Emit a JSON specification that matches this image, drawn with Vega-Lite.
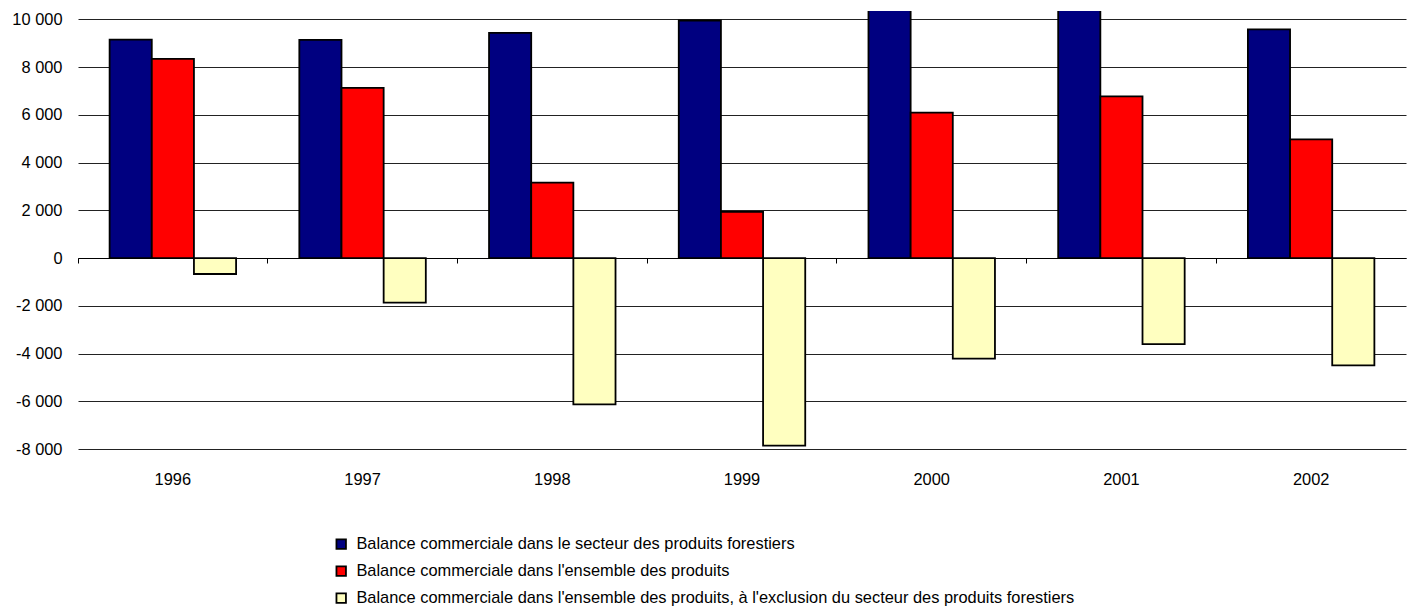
{
  "$schema": "https://vega.github.io/schema/vega-lite/v6.json",
  "width": 1328,
  "height": 438,
  "autosize": "none",
  "padding": {"left": 78, "top": 11, "right": 4, "bottom": 159},
  "background": "white",
  "config": {
    "view": {"stroke": null},
    "font": "Liberation Sans",
    "axis": {"labelFont": "Liberation Sans", "labelFontSize": 16.4, "labelColor": "#000"}
  },
  "data": {
    "values": [
      {"year": "1996", "series": "Balance commerciale dans le secteur des produits forestiers", "value": 9150},
      {"year": "1996", "series": "Balance commerciale dans l'ensemble des produits", "value": 8340},
      {"year": "1996", "series": "Balance commerciale dans l'ensemble des produits, à l'exclusion du secteur des produits forestiers", "value": -670},
      {"year": "1997", "series": "Balance commerciale dans le secteur des produits forestiers", "value": 9140},
      {"year": "1997", "series": "Balance commerciale dans l'ensemble des produits", "value": 7130},
      {"year": "1997", "series": "Balance commerciale dans l'ensemble des produits, à l'exclusion du secteur des produits forestiers", "value": -1870},
      {"year": "1998", "series": "Balance commerciale dans le secteur des produits forestiers", "value": 9430},
      {"year": "1998", "series": "Balance commerciale dans l'ensemble des produits", "value": 3160},
      {"year": "1998", "series": "Balance commerciale dans l'ensemble des produits, à l'exclusion du secteur des produits forestiers", "value": -6130},
      {"year": "1999", "series": "Balance commerciale dans le secteur des produits forestiers", "value": 9950},
      {"year": "1999", "series": "Balance commerciale dans l'ensemble des produits", "value": 1935},
      {"year": "1999", "series": "Balance commerciale dans l'ensemble des produits, à l'exclusion du secteur des produits forestiers", "value": -7860},
      {"year": "2000", "series": "Balance commerciale dans le secteur des produits forestiers", "value": 10500},
      {"year": "2000", "series": "Balance commerciale dans l'ensemble des produits", "value": 6090},
      {"year": "2000", "series": "Balance commerciale dans l'ensemble des produits, à l'exclusion du secteur des produits forestiers", "value": -4210},
      {"year": "2001", "series": "Balance commerciale dans le secteur des produits forestiers", "value": 10600},
      {"year": "2001", "series": "Balance commerciale dans l'ensemble des produits", "value": 6770},
      {"year": "2001", "series": "Balance commerciale dans l'ensemble des produits, à l'exclusion du secteur des produits forestiers", "value": -3610},
      {"year": "2002", "series": "Balance commerciale dans le secteur des produits forestiers", "value": 9580},
      {"year": "2002", "series": "Balance commerciale dans l'ensemble des produits", "value": 4970},
      {"year": "2002", "series": "Balance commerciale dans l'ensemble des produits, à l'exclusion du secteur des produits forestiers", "value": -4500}
    ]
  },
  "resolve": {"axis": {"x": "independent"}},
  "layer": [
    {
      "mark": {"type": "bar", "stroke": "#000", "strokeWidth": 1.8, "clip": true},
      "encoding": {
        "x": {
          "field": "year", "type": "nominal",
          "scale": {"paddingInner": 0, "paddingOuter": 0},
          "axis": {"orient": "bottom", "title": null, "domain": false, "ticks": false, "tickSize": 0, "labelAngle": 0, "labelPadding": 22, "grid": false}
        },
        "xOffset": {
          "field": "series", "type": "nominal",
          "sort": ["Balance commerciale dans le secteur des produits forestiers", "Balance commerciale dans l'ensemble des produits", "Balance commerciale dans l'ensemble des produits, à l'exclusion du secteur des produits forestiers"],
          "scale": {"paddingInner": 0, "paddingOuter": 0.75}
        },
        "y": {
          "field": "value", "type": "quantitative",
          "scale": {"domain": [-8000, 10348], "nice": false, "zero": false},
          "axis": {
            "title": null, "domain": false, "ticks": false, "tickSize": 0,
            "values": [-8000, -6000, -4000, -2000, 0, 2000, 4000, 6000, 8000, 10000],
            "labelExpr": "replace(replace(format(datum.value, ','), ',', ' '), '−', '-')",
            "labelPadding": 16,
            "grid": true, "gridColor": "#222", "gridWidth": 1
          }
        },
        "color": {
          "field": "series", "type": "nominal",
          "scale": {
            "domain": ["Balance commerciale dans le secteur des produits forestiers", "Balance commerciale dans l'ensemble des produits", "Balance commerciale dans l'ensemble des produits, à l'exclusion du secteur des produits forestiers"],
            "range": ["#000080", "#FF0000", "#FFFFC0"]
          },
          "legend": {
            "title": null,
            "orient": "none",
            "legendX": 255,
            "legendY": 525,
            "padding": 0,
            "symbolType": "square",
            "symbolSize": 90,
            "symbolStrokeColor": "#000",
            "symbolStrokeWidth": 1.8,
            "symbolOpacity": 1,
            "labelFont": "Liberation Sans",
            "labelFontSize": 16.4,
            "labelColor": "#000",
            "labelLimit": 1000,
            "labelOffset": 7,
            "rowPadding": 9
          }
        }
      }
    },
    {
      "mark": {"type": "point", "opacity": 0},
      "encoding": {
        "x": {
          "field": "year", "type": "nominal",
          "axis": {"orient": "top", "title": null, "offset": -247, "domain": true, "domainColor": "#000", "domainWidth": 1, "ticks": true, "tickColor": "#000", "tickSize": -5, "tickWidth": 1, "bandPosition": 0, "labels": false, "grid": false}
        },
        "y": {"datum": 0, "type": "quantitative"}
      }
    }
  ]
}
